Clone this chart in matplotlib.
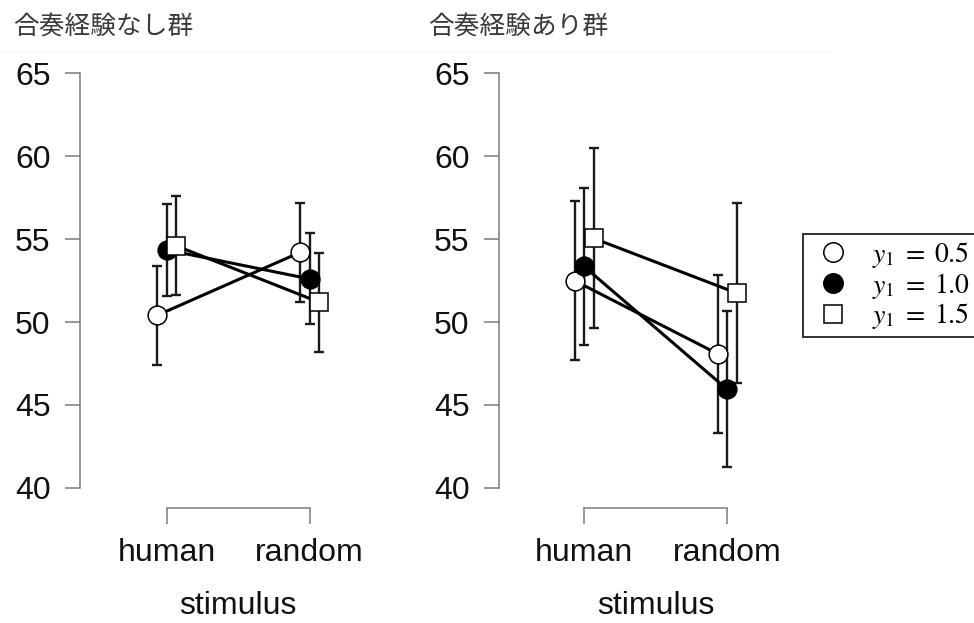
import matplotlib
matplotlib.use('Agg')
import matplotlib.pyplot as plt
from matplotlib.lines import Line2D

# data
stimulus = ['human', 'random']
groups = ['合奏経験なし群', '合奏経験あり群']
levels = ['0.5', '1.0', '1.5']

# group 1 (no ensemble experience)
g1_mean_05 = [50.4, 54.2]
g1_mean_10 = [54.35, 52.6]
g1_mean_15 = [54.6, 51.2]
g1_err_05 = [3.0, 3.0]
g1_err_10 = [2.76, 2.75]
g1_err_15 = [2.97, 2.98]

# group 2 (with ensemble experience)
g2_mean_05 = [52.49, 48.08]
g2_mean_10 = [53.35, 45.94]
g2_mean_15 = [55.05, 51.75]
g2_err_05 = [4.78, 4.78]
g2_err_10 = [4.75, 4.7]
g2_err_15 = [5.43, 5.45]

plt.rcParams['mathtext.fontset'] = 'stix'

W, H = 974, 623
fig = plt.figure(figsize=(W / 100, H / 100), dpi=100)

styles = [dict(marker='o', mfc='white', ms=13.5),
          dict(marker='o', mfc='black', ms=13.5),
          dict(marker='s', mfc='white', ms=12.5)]
offsets = [-0.066, 0.0, 0.066]
px_per_unit = 143.0


def panel(left_px, xlim, means, errs):
    y_top, y_bot = 73.3, 487.8
    width_px = (xlim[1] - xlim[0]) * px_per_unit
    ax = fig.add_axes([left_px / W, 1 - y_bot / H, width_px / W, (y_bot - y_top) / H])
    ax.set_xlim(*xlim)
    ax.set_ylim(40, 65)
    for m, e, st, off in zip(means, errs, styles, offsets):
        xs = [1 + off, 2 + off]
        ax.errorbar(xs, m, yerr=e, fmt='none', ecolor='#1a1a1a', elinewidth=1.7,
                    capsize=3.3, capthick=1.7, zorder=2, clip_on=False)
        ax.plot(xs, m, color='black', lw=2.2, zorder=3, clip_on=False)
    for m, st, off in zip(means, styles, offsets):
        xs = [1 + off, 2 + off]
        ax.plot(xs, m, linestyle='none', mec='black', mew=1.1, zorder=4,
                clip_on=False, **st)
    for s in ['top', 'right']:
        ax.spines[s].set_visible(False)
    for s in ['left', 'bottom']:
        ax.spines[s].set_color('#7a7a7a')
        ax.spines[s].set_linewidth(1.1)
    ax.spines['left'].set_bounds(40, 65)
    ax.spines['bottom'].set_bounds(1, 2)
    ax.spines['bottom'].set_position(('outward', 14.4))
    ax.set_yticks([40, 45, 50, 55, 60, 65])
    ax.set_xticks([1, 2])
    ax.set_xticklabels(stimulus)
    ax.tick_params(axis='y', length=10.8, width=1.1, color='#7a7a7a', pad=10.5,
                   labelsize=23, labelcolor='#111111')
    ax.tick_params(axis='x', length=11.5, width=1.1, color='#7a7a7a', pad=10,
                   labelsize=23, labelcolor='#111111')
    for t in ax.get_xticklabels() + ax.get_yticklabels():
        t.set_family('Liberation Sans')
    ax.set_xlabel('stimulus', fontsize=23, family='Liberation Sans',
                  color='#111111', labelpad=17)
    ax.patch.set_visible(False)
    return ax


ax1 = panel(80, (0.395, 2.605), [g1_mean_05, g1_mean_10, g1_mean_15],
            [g1_err_05, g1_err_10, g1_err_15])
ax2 = panel(499, (0.405, 2.595), [g2_mean_05, g2_mean_10, g2_mean_15],
            [g2_err_05, g2_err_10, g2_err_15])

# panel titles
fig.text(13 / W, 1 - 28 / H, groups[0], fontsize=18.5, family='Noto Sans CJK JP',
         color='#3a3a3a', va='center', ha='left')
fig.text(428 / W, 1 - 28 / H, groups[1], fontsize=18.5, family='Noto Sans CJK JP',
         color='#3a3a3a', va='center', ha='left')
fig.add_artist(Line2D([0, 830 / W], [1 - 52 / H, 1 - 52 / H], color='#f6f6f6', lw=1))

# legend
leg_styles = [dict(marker='o', mfc='white', ms=14),
              dict(marker='o', mfc='black', ms=14),
              dict(marker='s', mfc='white', ms=12.5)]
handles = [Line2D([], [], linestyle='none', mec='black', mew=1.1, **st) for st in leg_styles]
labels = [r'$y_1\;=\;%s$' % v for v in levels]
leg = fig.legend(handles, labels, loc='upper left',
                 bbox_to_anchor=(803 / W, 1 - 234 / H), fontsize=20,
                 frameon=True, fancybox=False, edgecolor='black',
                 borderpad=0.22, labelspacing=0.02, handletextpad=0.54,
                 handlelength=1.73, borderaxespad=0)
leg.get_frame().set_linewidth(1.4)

fig.savefig('out.png', dpi=100)
